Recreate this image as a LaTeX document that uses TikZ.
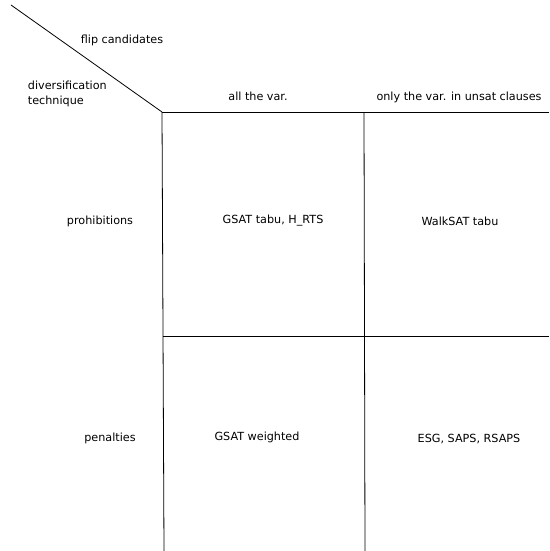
\documentclass[tikz,border=0pt]{standalone}
\usepackage{fontspec}
\setmainfont{DejaVu Sans}
\begin{document}
\begin{tikzpicture}[x=1pt,y=1pt,yscale=-1,xscale=1,
    label text/.style={inner sep=0.75pt,font=\fontsize{11.2}{15.5}\selectfont},
    grid line/.style={line width=0.8pt}]
    \useasboundingbox (0,0) rectangle (549,551);
    %Coordinates of the table corners
    \coordinate (corner) at (162,112);
    \coordinate (diagstart) at (11,5);
    \coordinate (topright) at (549,112);
    \coordinate (midtop) at (364,112);
    \coordinate (midleft) at (163,336);
    \coordinate (midright) at (549,336);
    \coordinate (leftbottom) at (164,551);
    \coordinate (midbottom) at (365,551);
    %Straight Lines
    \draw [grid line] (diagstart) -- (corner) ;
    %Straight Lines
    \draw [grid line] (corner) -- (topright) ;
    %Straight Lines
    \draw [grid line] (corner) -- (leftbottom) ;
    %Straight Lines
    \draw [grid line] (midtop) -- (midbottom) ;
    %Straight Lines
    \draw [grid line] (midleft) -- (midright) ;

    % Text Node
    \node [label text] (flipcand) at (122,40) {flip candidates};
    % Text Node
    \node [label text,anchor=west,align=left] (divtech) at (27,94) {diversification\\technique};
    % Text Node
    \node [label text] (allvar) at (258,96) {all the var.};
    % Text Node
    \node [label text] (unsatvar) at (459,97) {only the var. in unsat clauses};
    % Text Node
    \node [label text] (prohib) at (100,221) {prohibitions};
    % Text Node
    \node [label text] (penal) at (110,438) {penalties};
    % Text Node
    \node [label text] (gsattabu) at (273,221) {GSAT tabu, H\_RTS};
    % Text Node
    \node [label text] (walktabu) at (460,221) {WalkSAT tabu};
    % Text Node
    \node [label text] (gsatweight) at (257,437) {GSAT weighted};
    % Text Node
    \node [label text] (esgsaps) at (469,439) {ESG, SAPS, RSAPS};
\end{tikzpicture}
\end{document}
